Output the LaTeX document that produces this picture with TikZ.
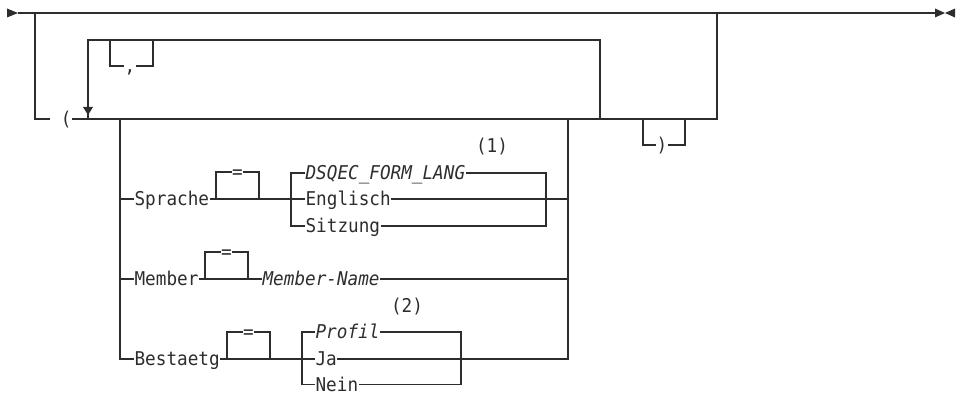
\documentclass[tikz,border=0pt]{standalone}
\usepackage{fontspec}
\newfontfamily\railfont{DejaVu Sans Mono}[FakeStretch=0.93]
\definecolor{railgray}{RGB}{45, 45, 45}

\tikzset{
  kw/.style={anchor=west, inner sep=0pt, text height=13.8pt, text depth=0pt, text=railgray,
    font=\fontsize{19}{22}\railfont},
  var/.style={kw, font=\fontsize{19}{22}\railfont\itshape},
  sym/.style={kw, anchor=center},
}

\begin{document}
\begin{tikzpicture}[x=1pt, y=-1pt, line width=1.2pt, draw=railgray]
\useasboundingbox (0,0) rectangle (964,393);

\coordinate (start) at (18,13);
\coordinate (stop) at (935,13);
\coordinate (a1) at (35,13);
\coordinate (a2) at (717,13);
\coordinate (r1) at (88,119);
\coordinate (r2) at (600,119);
\coordinate (wdh) at (88,40);
\coordinate (k1) at (110,40);
\coordinate (k2) at (153,40);
\coordinate (c1) at (120,119);
\coordinate (c2) at (568,119);
\coordinate (s3) at (291,199);
\coordinate (s4) at (546,199);
\coordinate (b3) at (302,359);
\coordinate (b4) at (461,359);
\coordinate (p1) at (643,119);
\coordinate (p2) at (685,119);

\node[sym] (klauf) at (61,119) {\phantom{(}(};
\node[sym] (komma) at (130,66) {,};
\node[sym] (klzu) at (662,145) {)};
\node[sym] (fn1) at (492,146) {(1)};
\node[sym] (fn2) at (407,306) {(2)};

\node[kw] (sprache) at (134,199) {Sprache};
\node[kw] (member) at (134,279) {Member};
\node[kw] (bestaetg) at (134,359) {Bestaetg};
\node[var] (dsqec) at (305,173) {DSQEC\_FORM\_LANG};
\node[kw] (englisch) at (305,199) {Englisch};
\node[kw] (sitzung) at (305,226) {Sitzung};
\node[var] (mname) at (262,279) {Member-Name};
\node[var] (profil) at (315,332) {Profil};
\node[kw] (ja) at (315,359) {Ja};
\node[kw] (nein) at (315,384.5) {Nein};

\draw (start) -- (stop);
\fill[railgray] (start) -- ++(-11,-4.5) -- ++(0,9) -- cycle;
\fill[railgray] (stop) ++(0,-4.5) -- ++(10,4.5) -- ++(-10,4.5) -- cycle;
\fill[railgray] (stop) ++(20,-4.5) -- ++(-10,4.5) -- ++(10,4.5) -- cycle;
\draw[line width=1.8pt] (a2) ++(5,-0.3) -- ++(21,0);

\draw (a1) |- (klauf.west);
\draw (klauf.east) -| (a2);
\draw (r2) |- (wdh) -- (r1);
\fill[railgray] (r1) ++(0,-4) -- ++(-5,-8) -- ++(10,0) -- cycle;
\draw (k1) |- (komma.west);
\draw (komma.east) -| (k2);
\draw (p1) |- (klzu.west);
\draw (klzu.east) -| (p2);

\draw (c1) |- (sprache.west);
\draw (c1) |- (member.west);
\draw (c1) |- (bestaetg.west);
\draw (sprache.east) -- (englisch.west);
\draw (englisch.east) -| (c2);
\draw (s3) |- (dsqec.west);
\draw (s3) |- (sitzung.west);
\draw (dsqec.east) -| (s4);
\draw (sitzung.east) -| (s4);
\draw (member.east) -- (mname.west);
\draw (mname.east) -| (c2);
\draw (bestaetg.east) -- (ja.west);
\draw (ja.east) -| (c2);
\draw (b3) |- (profil.west);
\draw (b3) |- (nein.west);
\draw (profil.east) -| (b4);
\draw (nein.east) -| (b4);

\foreach \n/\xa/\xb/\y in {gl1/216/259/199, gl2/205/248/279, gl3/227/270/359} {
  \node[sym] (\n) at ({(\xa+\xb)/2},\y-27) {=};
  \draw (\xa,\y) |- (\n.west);
  \draw (\n.east) -| (\xb,\y);
}
\end{tikzpicture}
\end{document}
